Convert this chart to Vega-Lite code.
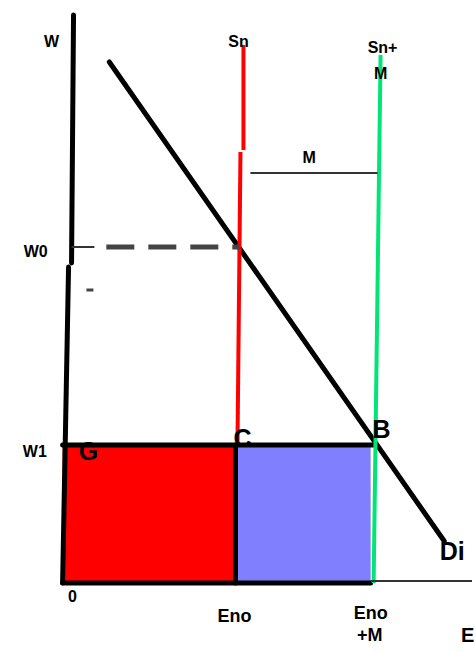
{
  "$schema": "https://vega.github.io/schema/vega-lite/v6.json",
  "width": 475,
  "height": 652,
  "padding": 0,
  "autosize": {"type": "fit", "contains": "padding"},
  "background": "white",
  "config": {"view": {"stroke": null}},
  "resolve": {"scale": {"color": "independent"}},
  "layer": [
    {
      "data": {"values": [
        {"area": "natives", "E": 0, "E2": 174, "W": 0, "W2": 138},
        {"area": "migrants", "E": 174, "E2": 310, "W": 0, "W2": 138}
      ]},
      "mark": {"type": "rect"},
      "encoding": {
        "x": {"field": "E", "type": "quantitative", "scale": {"domain": [-63, 412], "nice": false, "zero": false}, "axis": null},
        "x2": {"field": "E2"},
        "y": {"field": "W", "type": "quantitative", "scale": {"domain": [-69, 583], "nice": false, "zero": false}, "axis": null},
        "y2": {"field": "W2"},
        "color": {"field": "area", "type": "nominal", "scale": {"domain": ["natives", "migrants"], "range": ["#ff0000", "#8080ff"]}, "legend": null}
      }
    },
    {
      "data": {"values": [
        {"line": "Waxis", "E": 11, "W": 568, "E2": 9, "W2": 320},
        {"line": "Waxis", "E": 6, "W": 316, "E2": 0, "W2": 0},
        {"line": "Eaxis", "E": 0, "W": 0, "E2": 310, "W2": 0},
        {"line": "Demand", "E": 47, "W": 521, "E2": 384, "W2": 42},
        {"line": "W1", "E": 0, "W": 138, "E2": 313, "W2": 138},
        {"line": "Cdrop", "E": 174, "W": 138, "E2": 174, "W2": 0}
      ]},
      "mark": {"type": "rule", "color": "black", "strokeWidth": 5, "strokeCap": "round"},
      "encoding": {
        "x": {"field": "E", "type": "quantitative"},
        "y": {"field": "W", "type": "quantitative"},
        "x2": {"field": "E2"},
        "y2": {"field": "W2"}
      }
    },
    {
      "data": {"values": [
        {"line": "Sn", "E": 182, "W": 538, "E2": 182, "W2": 433},
        {"line": "Sn", "E": 179, "W": 431, "E2": 176, "W2": 140}
      ]},
      "mark": {"type": "rule", "color": "#ff0000", "strokeWidth": 4},
      "encoding": {
        "x": {"field": "E", "type": "quantitative"},
        "y": {"field": "W", "type": "quantitative"},
        "x2": {"field": "E2"},
        "y2": {"field": "W2"}
      }
    },
    {
      "data": {"values": [
        {"line": "SnM", "E": 320, "W": 528, "E2": 313, "W2": 0}
      ]},
      "mark": {"type": "rule", "color": "#00e676", "strokeWidth": 4},
      "encoding": {
        "x": {"field": "E", "type": "quantitative"},
        "y": {"field": "W", "type": "quantitative"},
        "x2": {"field": "E2"},
        "y2": {"field": "W2"}
      }
    },
    {
      "data": {"values": [
        {"line": "Mgap", "E": 189, "W": 410, "E2": 317, "W2": 410},
        {"line": "W0tick", "E": 9, "W": 336, "E2": 32, "W2": 336},
        {"line": "Eext", "E": 310, "W": 2, "E2": 412, "W2": 2}
      ]},
      "mark": {"type": "rule", "color": "#333333", "strokeWidth": 2},
      "encoding": {
        "x": {"field": "E", "type": "quantitative"},
        "y": {"field": "W", "type": "quantitative"},
        "x2": {"field": "E2"},
        "y2": {"field": "W2"}
      }
    },
    {
      "data": {"values": [
        {"line": "dash", "E": 24, "W": 293, "E2": 31, "W2": 293}
      ]},
      "mark": {"type": "rule", "color": "#444444", "strokeWidth": 3},
      "encoding": {
        "x": {"field": "E", "type": "quantitative"},
        "y": {"field": "W", "type": "quantitative"},
        "x2": {"field": "E2"},
        "y2": {"field": "W2"}
      }
    },
    {
      "data": {"values": [
        {"line": "W0", "E": 44, "W": 336, "E2": 178, "W2": 336}
      ]},
      "mark": {"type": "rule", "color": "#444444", "strokeWidth": 5, "strokeDash": [28, 14]},
      "encoding": {
        "x": {"field": "E", "type": "quantitative"},
        "y": {"field": "W", "type": "quantitative"},
        "x2": {"field": "E2"},
        "y2": {"field": "W2"}
      }
    },
    {
      "data": {"values": [
        {"label": "W", "E": -11, "W": 541},
        {"label": "Sn", "E": 177, "W": 541},
        {"label": "Sn+", "E": 322, "W": 535},
        {"label": "M", "E": 320, "W": 509},
        {"label": "M", "E": 248, "W": 425},
        {"label": "W0", "E": -27, "W": 331},
        {"label": "W1", "E": -28, "W": 131},
        {"label": "0", "E": 10, "W": -14}
      ]},
      "mark": {"type": "text", "font": "Liberation Sans", "fontWeight": "bold", "fontSize": 16, "color": "black", "align": "center", "baseline": "middle"},
      "encoding": {
        "x": {"field": "E", "type": "quantitative"},
        "y": {"field": "W", "type": "quantitative"},
        "text": {"field": "label"}
      }
    },
    {
      "data": {"values": [
        {"label": "Eno", "E": 173, "W": -34},
        {"label": "Eno", "E": 310, "W": -31},
        {"label": "+M", "E": 309, "W": -53}
      ]},
      "mark": {"type": "text", "font": "Liberation Sans", "fontWeight": "bold", "fontSize": 18, "color": "black", "align": "center", "baseline": "middle"},
      "encoding": {
        "x": {"field": "E", "type": "quantitative"},
        "y": {"field": "W", "type": "quantitative"},
        "text": {"field": "label"}
      }
    },
    {
      "data": {"values": [
        {"label": "G", "E": 26, "W": 131},
        {"label": "C", "E": 181, "W": 144},
        {"label": "B", "E": 321, "W": 153},
        {"label": "Di", "E": 392, "W": 31}
      ]},
      "mark": {"type": "text", "font": "Liberation Sans", "fontWeight": "bold", "fontSize": 25, "color": "black", "align": "center", "baseline": "middle"},
      "encoding": {
        "x": {"field": "E", "type": "quantitative"},
        "y": {"field": "W", "type": "quantitative"},
        "text": {"field": "label"}
      }
    },
    {
      "data": {"values": [
        {"label": "E", "E": 401, "W": -53}
      ]},
      "mark": {"type": "text", "font": "Liberation Sans", "fontWeight": "bold", "fontSize": 20, "color": "black", "align": "left", "baseline": "middle"},
      "encoding": {
        "x": {"field": "E", "type": "quantitative"},
        "y": {"field": "W", "type": "quantitative"},
        "text": {"field": "label"}
      }
    }
  ]
}
